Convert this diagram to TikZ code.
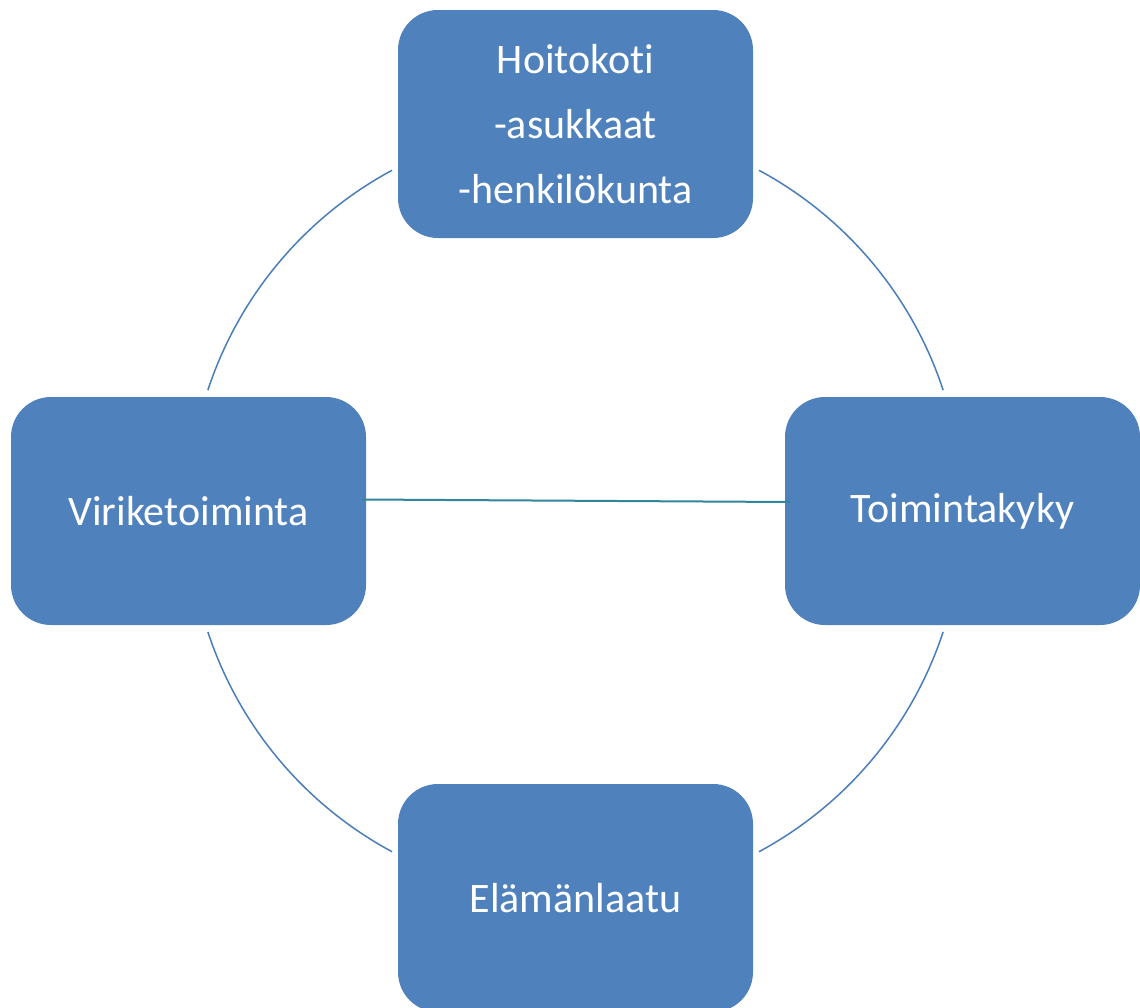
\documentclass[tikz,border=0pt]{standalone}
\usepackage{fontspec}
\setmainfont[Ligatures={NoCommon}]{Carlito}
\definecolor{boxfill}{HTML}{4F81BD}
\definecolor{arcline}{HTML}{4A7EBB}
\definecolor{midline}{HTML}{31859C}
\begin{document}
\begin{tikzpicture}[x=1pt,y=1pt,
  box/.style={draw=none,fill=boxfill,rounded corners=40pt,minimum width=355pt,minimum height=228pt,inner sep=0pt,text=white,align=center,font=\fontsize{42}{65}\selectfont},
  ring/.style={draw=arcline,line width=1.5pt},
  bar/.style={draw=midline,line width=2pt}]
\useasboundingbox (0,0) rectangle (1140,-1007);
\fill[white] (0,0) rectangle (1140,-1007);
\coordinate (c) at (575.5,-511);
\draw[ring] ([shift={(118.3:387)}]c) arc[start angle=118.3,end angle=161.8,radius=387];
\draw[ring] ([shift={(18.2:387)}]c) arc[start angle=18.2,end angle=61.7,radius=387];
\draw[ring] ([shift={(198.2:387)}]c) arc[start angle=198.2,end angle=241.7,radius=387];
\draw[ring] ([shift={(298.3:387)}]c) arc[start angle=298.3,end angle=341.8,radius=387];
\node[box] (hoi) at (575.5,-124) {Hoitokoti\\-asukkaat\\-henkilökunta};
\node[box] (vir) at (188.5,-511) {Viriketoiminta};
\node[box] (toi) at (962.5,-511) {Toimintakyky};
\node[box] (ela) at (575.5,-898) {Elämänlaatu};
\draw[bar] ([xshift=-4pt,yshift=11.5pt]vir.east) -- ([xshift=5pt,yshift=9pt]toi.west);
\end{tikzpicture}
\end{document}
